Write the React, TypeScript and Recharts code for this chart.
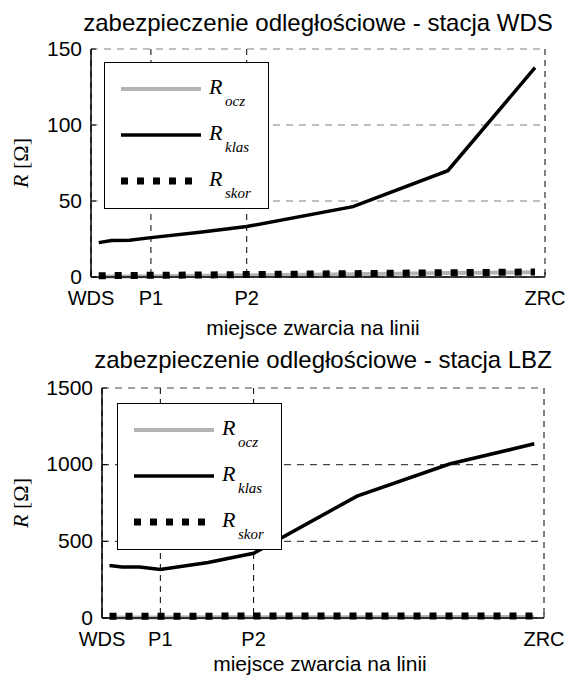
import React from "react";
import { LineChart, Line, XAxis, YAxis, CartesianGrid, Legend } from "recharts";

// fault location along the line, % of WDS–ZRC length
const positions = [1.7, 4.5, 8.5, 13.2, 24, 34.3, 57.7, 78.6, 97.8];

// station WDS
const wdsOcz = [0.2, 0.3, 0.4, 0.5, 0.8, 1.1, 1.8, 2.6, 3.2];
const wdsKlas = [22.6, 24, 24.2, 25.9, 29.5, 33.2, 46.3, 69.9, 137.7];
const wdsSkor = [0.9, 0.9, 1.0, 1.1, 1.3, 1.6, 2.2, 2.8, 3.3];

// station LBZ
const lbzOcz = [4, 4, 4, 4, 5, 5, 5, 6, 6];
const lbzKlas = [343, 333, 333, 317, 362, 422, 795, 1004, 1136];
const lbzSkor = [12, 12, 12, 12, 12, 13, 13, 13, 13];

const xTickValues = [0, 13.2, 34.3, 100];
const xTickLabels = ["WDS", "P1", "P2", "ZRC"];
const wdsYTicks = [0, 50, 100, 150];
const lbzYTicks = [0, 500, 1000, 1500];

const sans = "'Liberation Sans', Arial, sans-serif";
const serif = "'Liberation Serif', 'Times New Roman', serif";

const series = [
  { key: "ocz", name: "ocz", color: "#b4b4b4", width: 4, dash: undefined },
  { key: "klas", name: "klas", color: "#000000", width: 3.5, dash: undefined },
  { key: "skor", name: "skor", color: "#000000", width: 7, dash: "7 9" },
];

function buildData(ocz: number[], klas: number[], skor: number[]) {
  return positions.map((x, i) => ({ x, ocz: ocz[i], klas: klas[i], skor: skor[i] }));
}

const XTick = (props: any) => {
  const { x, y, payload } = props;
  const idx = xTickValues.indexOf(payload.value);
  return (
    <g>
      <line x1={x} x2={x} y1={y} y2={y - 5} stroke="#000" strokeWidth={1} />
      <text x={x} y={y + 28} textAnchor="middle" fontSize={20} fontFamily={sans} fill="#000">
        {xTickLabels[idx]}
      </text>
    </g>
  );
};

const YTick = (props: any) => {
  const { x, y, payload } = props;
  return (
    <g>
      <line x1={x} x2={x + 5} y1={y} y2={y} stroke="#000" strokeWidth={1} />
      <text x={x - 9} y={y - 1} textAnchor="end" dominantBaseline="central" fontSize={21} fontFamily={sans} fill="#000">
        {payload.value}
      </text>
    </g>
  );
};

const LegendBox = () => (
  <div style={{ width: 163, height: 145, border: "1px solid #000", background: "#fff", position: "relative" }}>
    {series.map((s, i) => (
      <div key={s.key} style={{ position: "absolute", left: 0, top: 26 + i * 46 - 10, width: 163, height: 20 }}>
        <svg width={100} height={20} style={{ position: "absolute", left: 0, top: 0 }}>
          <line x1={16} x2={96} y1={10} y2={10} stroke={s.color} strokeWidth={s.width} strokeDasharray={s.dash} />
        </svg>
        <span style={{ position: "absolute", left: 104, top: -3, fontFamily: serif, fontStyle: "italic", fontSize: 22, lineHeight: "22px" }}>
          R
        </span>
        <span style={{ position: "absolute", left: 120, top: 15, fontFamily: serif, fontStyle: "italic", fontSize: 15, lineHeight: "15px" }}>
          {s.name}
        </span>
      </div>
    ))}
  </div>
);

function Panel(props: {
  data: any[];
  yTicks: number[];
  yAxisWidth: number;
  xAxisHeight: number;
  right: number;
  legendLeft: number;
  legendTop: number;
  hGrid: string;
}) {
  const { data, yTicks, yAxisWidth, xAxisHeight, right, legendLeft, legendTop, hGrid } = props;
  return (
    <LineChart width={569} height={339} data={data} margin={{ top: 49, right, bottom: 0, left: 0 }}>
      <CartesianGrid vertical={false} stroke={hGrid} strokeWidth={1.2} strokeDasharray="7 6" />
      <CartesianGrid horizontal={false} stroke="#000" strokeWidth={1} strokeDasharray="6 5" />
      <XAxis
        type="number"
        dataKey="x"
        domain={[0, 100]}
        ticks={xTickValues}
        interval={0}
        height={xAxisHeight}
        axisLine={{ stroke: "#000", strokeWidth: 1.5 }}
        tickLine={false}
        tickSize={0}
        tickMargin={0}
        tick={<XTick />}
      />
      <YAxis
        type="number"
        domain={[yTicks[0], yTicks[yTicks.length - 1]]}
        ticks={yTicks}
        interval={0}
        width={yAxisWidth}
        axisLine={{ stroke: "#000", strokeWidth: 1.5 }}
        tickLine={false}
        tickSize={0}
        tickMargin={0}
        tick={<YTick />}
      />
      {series.map((s) => (
        <Line
          key={s.key}
          type="linear"
          dataKey={s.key}
          stroke={s.color}
          strokeWidth={s.width}
          strokeDasharray={s.dash}
          strokeLinecap="butt"
          dot={false}
          activeDot={false}
          isAnimationActive={false}
        />
      ))}
      <Legend
        layout="vertical"
        align="center"
        verticalAlign="middle"
        content={<LegendBox />}
        wrapperStyle={{ position: "absolute", left: legendLeft, top: legendTop, width: 165, height: 147 }}
      />
    </LineChart>
  );
}

export default function App() {
  const wdsData = buildData(wdsOcz, wdsKlas, wdsSkor);
  const lbzData = buildData(lbzOcz, lbzKlas, lbzSkor);
  return (
    <div style={{ position: "absolute", left: 0, top: 0, width: 569, height: 678, background: "#fff" }}>
      <div style={{ position: "absolute", left: 0, top: 0 }}>
        <Panel data={wdsData} yTicks={wdsYTicks} yAxisWidth={91} xAxisHeight={62} right={24}
          legendLeft={104} legendTop={62} hGrid="#808080" />
      </div>
      <div style={{ position: "absolute", left: 0, top: 339 }}>
        <Panel data={lbzData} yTicks={lbzYTicks} yAxisWidth={102} xAxisHeight={60} right={25}
          legendLeft={117} legendTop={64} hGrid="#444444" />
      </div>
      <svg width={569} height={678} style={{ position: "absolute", left: 0, top: 0, pointerEvents: "none" }}>
        <text x={318} y={31} textAnchor="middle" fontSize={24} fontFamily={sans}>
          zabezpieczenie odległościowe - stacja WDS
        </text>
        <text x={313} y={335} textAnchor="middle" fontSize={21} fontFamily={sans}>
          miejsce zwarcia na linii
        </text>
        <text x={20} y={163} transform="rotate(-90 20 163)" textAnchor="middle" dominantBaseline="central" fontSize={22} fontFamily={serif}>
          <tspan fontStyle="italic">R</tspan> [Ω]
        </text>
        <text x={323} y={368} textAnchor="middle" fontSize={24} fontFamily={sans}>
          zabezpieczenie odległościowe - stacja LBZ
        </text>
        <text x={320} y={671} textAnchor="middle" fontSize={21} fontFamily={sans}>
          miejsce zwarcia na linii
        </text>
        <text x={20} y={503} transform="rotate(-90 20 503)" textAnchor="middle" dominantBaseline="central" fontSize={22} fontFamily={serif}>
          <tspan fontStyle="italic">R</tspan> [Ω]
        </text>
      </svg>
    </div>
  );
}
